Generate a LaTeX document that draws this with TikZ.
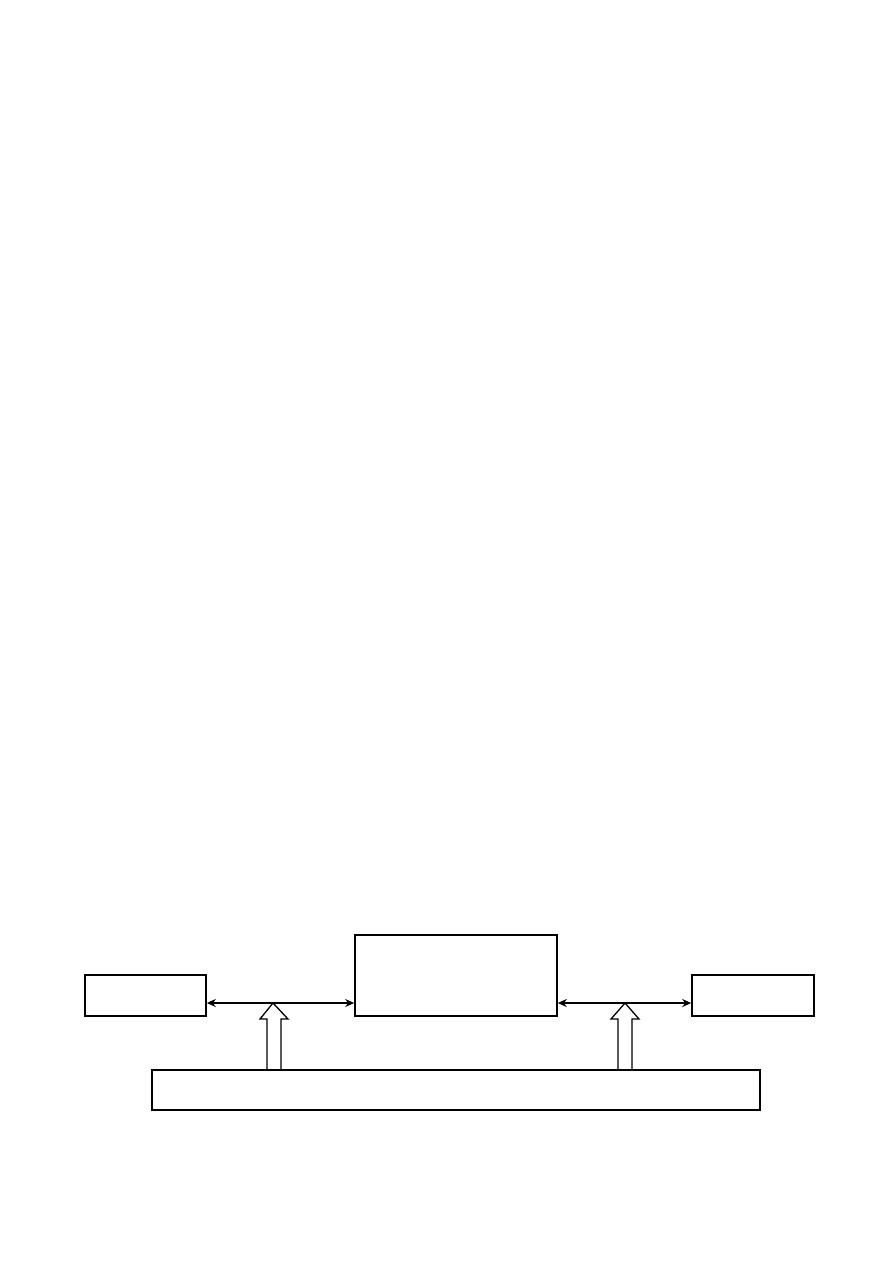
\documentclass[tikz,border=0pt]{standalone}
\usetikzlibrary{arrows.meta,calc}
\begin{document}
\begin{tikzpicture}[x=1pt,y=-1pt,
  blk/.style={draw,line width=1.6pt,inner sep=0pt},
  conn/.style={line width=1.4pt,{Stealth[length=9pt,width=8pt]}-{Stealth[length=9pt,width=8pt]}},
  hollow/.style={draw,line width=1.3pt,fill=white}]
\useasboundingbox (0,0) rectangle (893,1263);
\node[blk,minimum width=121pt,minimum height=41pt] (L) at (145.5,995.5) {};
\node[blk,minimum width=202pt,minimum height=81pt] (C) at (456,975.5) {};
\node[blk,minimum width=122pt,minimum height=41pt] (R) at (753,995.5) {};
\coordinate (yl) at (0,1003);
\draw[conn] (L.east |- yl) -- (C.west |- yl);
\draw[conn] (C.east |- yl) -- (R.west |- yl);
\draw[hollow] (273,1003) -- (288,1019) -- (281,1019) -- (281,1070) -- (267,1070) -- (267,1019) -- (260,1019) -- cycle;
\draw[hollow] (625,1003) -- (639,1019) -- (632,1019) -- (632,1070) -- (618,1070) -- (618,1019) -- (611,1019) -- cycle;
\node[blk,minimum width=608pt,minimum height=40pt] (B) at (456,1090) {};
\end{tikzpicture}
\end{document}
